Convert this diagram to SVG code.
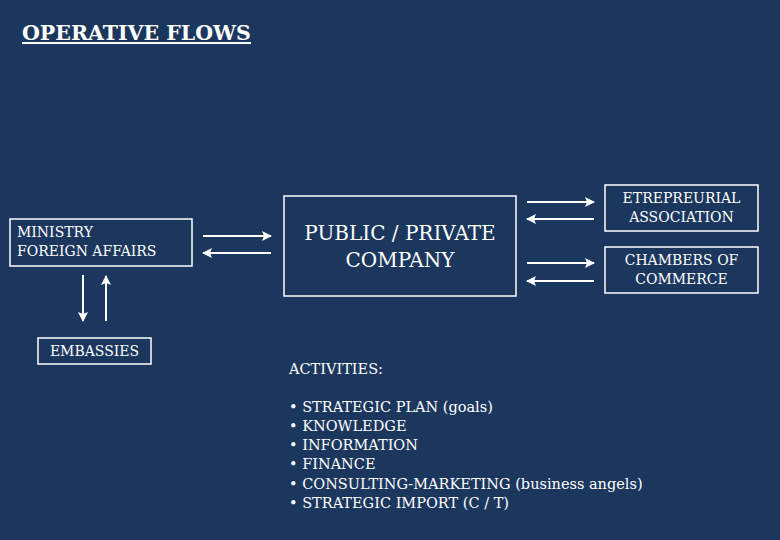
<svg xmlns="http://www.w3.org/2000/svg" width="780" height="540" viewBox="0 0 780 540">
<style>
.b{fill:none;stroke:#fff;stroke-width:1.5}
.t{fill:#fff;font-family:"DejaVu Serif","Liberation Serif",serif;font-size:14px}
.big{font-size:20px}
.act{font-size:14.5px}
.c line{stroke:#fff;stroke-width:2;marker-end:url(#a)}
</style>
<defs><marker id="a" markerWidth="10" markerHeight="10" refX="9" refY="5" orient="auto" markerUnits="userSpaceOnUse"><path d="M0,0L10,5L0,10L2,5Z" fill="#fff"/></marker></defs>
<rect width="780" height="540" fill="#1c375e"/>
<text x="22" y="40" fill="#fff" font-family="DejaVu Serif,Liberation Serif,serif" font-size="20.5" font-weight="bold" text-decoration="underline">OPERATIVE FLOWS</text>
<g id="ministry"><rect class="b" x="10" y="219" width="182" height="47"/><text class="t" x="17" y="237">MINISTRY</text><text class="t" x="17" y="256">FOREIGN AFFAIRS</text></g>
<g id="embassies"><rect class="b" x="38" y="338" width="113" height="26"/><text class="t" x="94.5" y="356" text-anchor="middle">EMBASSIES</text></g>
<g id="company"><rect class="b" x="284" y="196" width="232" height="100"/><text class="t big" x="400" y="240" text-anchor="middle">PUBLIC / PRIVATE</text><text class="t big" x="400" y="267" text-anchor="middle">COMPANY</text></g>
<g id="etre"><rect class="b" x="605" y="185" width="153" height="46"/><text class="t" x="681.5" y="203" text-anchor="middle">ETREPREURIAL</text><text class="t" x="681.5" y="222" text-anchor="middle">ASSOCIATION</text></g>
<g id="chambers"><rect class="b" x="605" y="247" width="153" height="46"/><text class="t" x="681.5" y="265" text-anchor="middle">CHAMBERS OF</text><text class="t" x="681.5" y="284" text-anchor="middle">COMMERCE</text></g>
<g class="c">
<line x1="203" y1="236" x2="271" y2="236"/><line x1="271" y1="253" x2="203" y2="253"/>
<line x1="83" y1="275" x2="83" y2="321"/><line x1="106" y1="321" x2="106" y2="276"/>
<line x1="527" y1="202" x2="594" y2="202"/><line x1="594" y1="219" x2="527" y2="219"/>
<line x1="527" y1="263" x2="594" y2="263"/><line x1="594" y1="281" x2="527" y2="281"/>
</g>
<g id="activities" class="t act">
<text x="289" y="374">ACTIVITIES:</text>
<text x="289" y="412">• STRATEGIC PLAN (goals)</text>
<text x="289" y="431">• KNOWLEDGE</text>
<text x="289" y="450">• INFORMATION</text>
<text x="289" y="469">• FINANCE</text>
<text x="289" y="489">• CONSULTING-MARKETING (business angels)</text>
<text x="289" y="508">• STRATEGIC IMPORT (C / T)</text>
</g>
</svg>
